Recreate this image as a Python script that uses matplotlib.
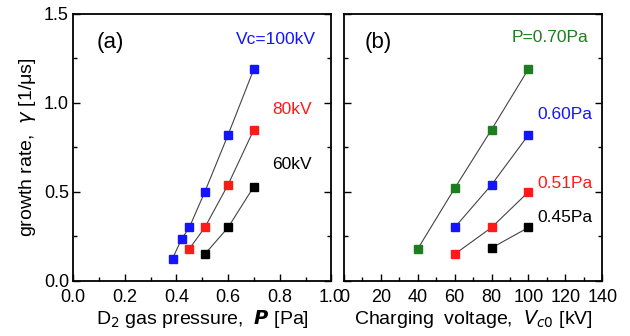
import matplotlib
matplotlib.use("Agg")
import matplotlib.pyplot as plt
from matplotlib.ticker import MultipleLocator

# panel (a): growth rate vs pressure for each charging voltage
p_100kv = [0.385, 0.42, 0.45, 0.51, 0.60, 0.70]
g_100kv = [0.125, 0.235, 0.30, 0.50, 0.82, 1.19]
p_80kv = [0.45, 0.51, 0.60, 0.70]
g_80kv = [0.18, 0.30, 0.54, 0.85]
p_60kv = [0.51, 0.60, 0.70]
g_60kv = [0.15, 0.30, 0.53]

# panel (b): growth rate vs charging voltage for each pressure
v_070 = [40, 60, 80, 100]
g_070 = [0.18, 0.52, 0.85, 1.19]
v_060 = [60, 80, 100]
g_060 = [0.30, 0.54, 0.82]
v_051 = [60, 80, 100]
g_051 = [0.15, 0.30, 0.50]
v_045 = [80, 100]
g_045 = [0.185, 0.30]

BLUE = "#1414ff"
RED = "#ff1a1a"
BLACK = "#000000"
GREEN = "#1e7d1e"

plt.rcParams["font.family"] = ["Liberation Sans", "DejaVu Sans"]
plt.rcParams["mathtext.fontset"] = "dejavusans"

fig = plt.figure(figsize=(6.3, 3.36), dpi=100)
ax1 = fig.add_axes([0.116, 0.164, 0.41, 0.795])
ax2 = fig.add_axes([0.546, 0.164, 0.41, 0.795])


def series(ax, x, y, color):
    ax.plot(x, y, color="#444444", lw=0.8, zorder=2)
    ax.plot(x, y, ls="none", marker="s", ms=6, mfc=color, mec=color, zorder=3)


series(ax1, p_100kv, g_100kv, BLUE)
series(ax1, p_80kv, g_80kv, RED)
series(ax1, p_60kv, g_60kv, BLACK)

series(ax2, v_070, g_070, GREEN)
series(ax2, v_060, g_060, BLUE)
series(ax2, v_051, g_051, RED)
series(ax2, v_045, g_045, BLACK)

for ax in (ax1, ax2):
    ax.set_ylim(0, 1.5)
    ax.yaxis.set_major_locator(MultipleLocator(0.5))
    ax.yaxis.set_minor_locator(MultipleLocator(0.25))
    ax.tick_params(which="both", direction="in", left=True, right=True,
                   top=False, bottom=True, labelsize=13)
    ax.tick_params(axis="x", pad=6)
    ax.tick_params(axis="y", pad=3)
    ax.tick_params(which="major", length=5, width=1)
    ax.tick_params(which="minor", length=3, width=1)
    for s in ax.spines.values():
        s.set_linewidth(1.3)

ax1.set_xlim(0, 1.0)
ax1.xaxis.set_major_locator(MultipleLocator(0.2))
ax1.xaxis.set_minor_locator(MultipleLocator(0.1))
ax1.set_xticks([0.0, 0.2, 0.4, 0.6, 0.8, 1.0])
ax1.set_xticklabels(["0.0", "0.2", "0.4", "0.6", "0.8", "1.0"])
ax1.set_ylabel(r"growth rate,  $\gamma$ [1/μs]", fontsize=14)
ax1.set_xlabel(r"D$_2$ gas pressure,  $\boldsymbol{P}$ [Pa]", fontsize=14, labelpad=1)

ax2.set_xlim(0, 140)
ax2.xaxis.set_major_locator(MultipleLocator(20))
ax2.xaxis.set_minor_locator(MultipleLocator(10))
ax2.tick_params(labelleft=False)
ax2.set_xlabel(r"Charging  voltage,  $V_{c0}$ [kV]", fontsize=14, labelpad=1)

ax1.text(0.09, 1.31, "(a)", fontsize=16)
ax1.text(0.63, 1.33, "Vc=100kV", color=BLUE, fontsize=12.5)
ax1.text(0.77, 0.94, "80kV", color=RED, fontsize=12.5)
ax1.text(0.77, 0.63, "60kV", color=BLACK, fontsize=12.5)

ax2.text(11, 1.31, "(b)", fontsize=16)
ax2.text(91, 1.34, "P=0.70Pa", color=GREEN, fontsize=12.5)
ax2.text(105, 0.91, "0.60Pa", color=BLUE, fontsize=12.5)
ax2.text(105, 0.52, "0.51Pa", color=RED, fontsize=12.5)
ax2.text(105, 0.33, "0.45Pa", color=BLACK, fontsize=12.5)

fig.savefig("out.png", dpi=100)
